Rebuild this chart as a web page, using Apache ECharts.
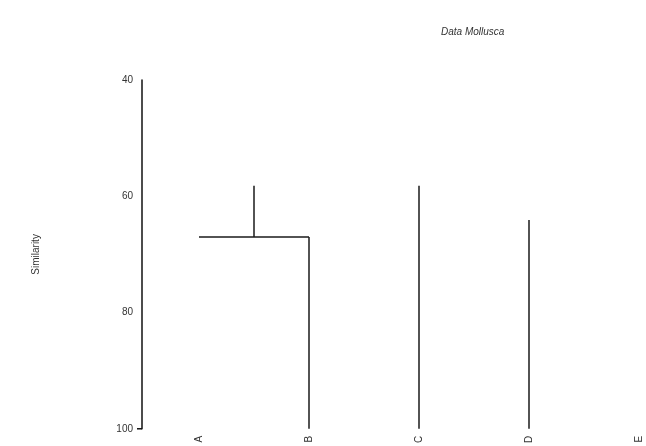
<!DOCTYPE html>
<html>
<head>
<meta charset="utf-8">
<script src="https://cdn.jsdelivr.net/npm/echarts@6/dist/echarts.min.js"></script>
<style>
  html, body { margin: 0; padding: 0; background: #fff; }
  #chart { width: 646px; height: 446px; }
</style>
</head>
<body>
<div id="chart"></div>
<script>
// Leaves of the dendrogram
const leafLabels = ['A', 'B', 'C', 'D', 'E'];

// Vertical stems: leaf position (may sit between leaves), lower and upper similarity
const stemX = [1, 0.5, 2, 3];
const stemBottom = [100, 67, 100, 100];
const stemTop = [67, 58.2, 58.2, 64.1];

// Horizontal joins: from leaf, to leaf, similarity level
const joinFrom = [0];
const joinTo = [1];
const joinLevel = [67];

// Similarity axis ticks
const simMin = 40;
const simMax = 100;
const simStep = 20;

const segments = [];
stemX.forEach((x, i) => segments.push([x, stemBottom[i], x, stemTop[i]]));
joinFrom.forEach((f, i) => segments.push([f, joinLevel[i], joinTo[i], joinLevel[i]]));

// the similarity axis sits about half a leaf spacing left of the first leaf
const yAxisOffset = 57;

const chart = echarts.init(document.getElementById('chart'), null, { renderer: 'canvas' });

chart.setOption({
  animation: false,
  backgroundColor: '#fff',
  title: {
    text: 'Data Mollusca',
    left: 436,
    top: 22,
    textStyle: { fontFamily: 'Liberation Sans', fontSize: 10, fontStyle: 'italic', fontWeight: 'normal', color: '#333' }
  },
  grid: { left: 199, right: 7, top: 80, bottom: 17, containLabel: false },
  xAxis: {
    type: 'value',
    min: 0,
    max: leafLabels.length - 1,
    interval: 1,
    axisLine: { show: false },
    axisTick: { show: false },
    splitLine: { show: false },
    axisLabel: {
      rotate: 90, margin: 7, fontSize: 10, color: '#333', fontFamily: 'Liberation Sans',
      formatter: v => leafLabels[v] || ''
    }
  },
  yAxis: {
    type: 'value',
    inverse: true,
    min: simMin,
    max: simMax,
    interval: simStep,
    offset: yAxisOffset,
    name: 'Similarity',
    nameLocation: 'middle',
    nameGap: 101,
    nameRotate: 90,
    nameTextStyle: { fontSize: 10, color: '#333', fontFamily: 'Liberation Sans' },
    axisLine: { show: true, onZero: false, lineStyle: { color: '#111', width: 1.5 } },
    axisTick: { show: false },
    splitLine: { show: false },
    axisLabel: { margin: 9, fontSize: 10, color: '#333', fontFamily: 'Liberation Sans' }
  },
  series: [
    {
      type: 'custom',
      coordinateSystem: 'cartesian2d',
      data: segments,
      renderItem: function (params, api) {
        const p1 = api.coord([api.value(0), api.value(1)]);
        const p2 = api.coord([api.value(2), api.value(3)]);
        return {
          type: 'line',
          shape: { x1: p1[0], y1: p1[1], x2: p2[0], y2: p2[1] },
          style: { stroke: '#1a1a1a', lineWidth: 1.5 }
        };
      },
      silent: true
    },
    {
      // short tick closing the bottom of the similarity axis
      type: 'custom',
      coordinateSystem: 'cartesian2d',
      data: [[0, simMax]],
      renderItem: function (params, api) {
        const p = api.coord([0, api.value(1)]);
        const x0 = params.coordSys.x - yAxisOffset;
        return {
          type: 'line',
          shape: { x1: x0 - 5, y1: p[1], x2: x0, y2: p[1] },
          style: { stroke: '#111', lineWidth: 1.5 }
        };
      },
      silent: true
    }
  ]
});
</script>
</body>
</html>
